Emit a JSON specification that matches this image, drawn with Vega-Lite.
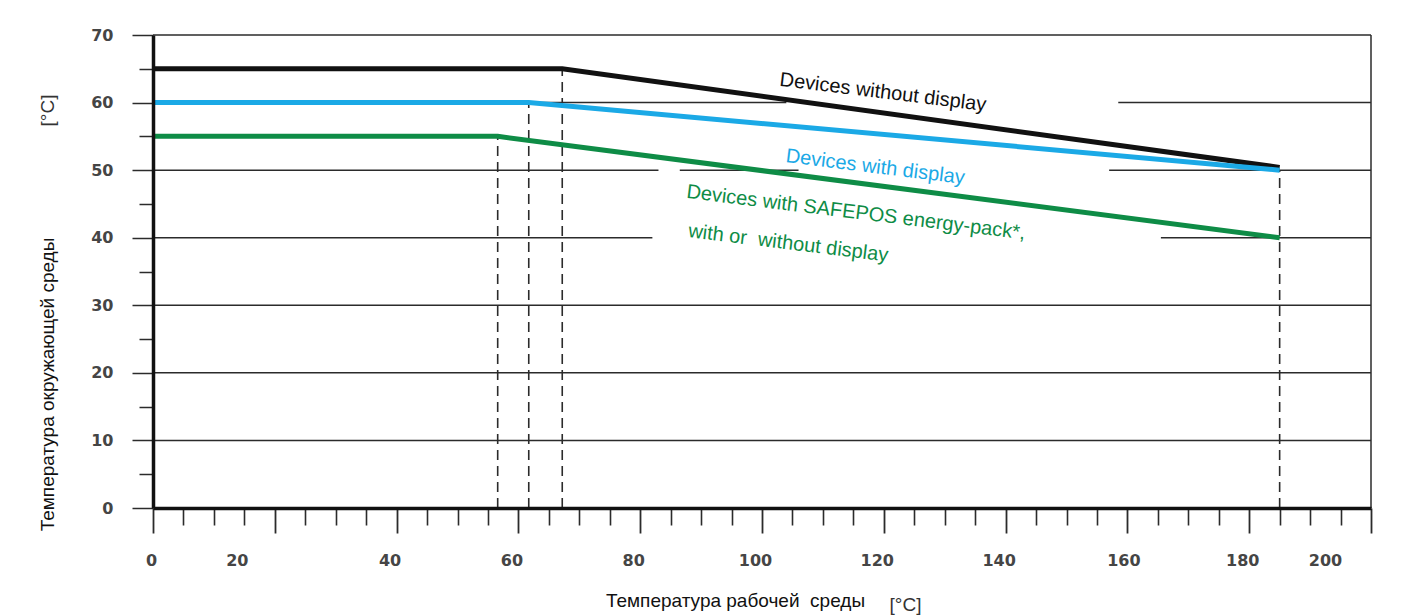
{
  "$schema": "https://vega.github.io/schema/vega-lite/v6.json",
  "width": 1218,
  "height": 473,
  "autosize": {"type": "none"},
  "padding": {"left": 153, "top": 35, "right": 52, "bottom": 108},
  "background": "white",
  "config": {"view": {"stroke": null}, "font": "Liberation Sans"},
  "datasets": {
    "grid": [
      {"y": 10, "x1": 0, "x2": 200},
      {"y": 20, "x1": 0, "x2": 200},
      {"y": 30, "x1": 0, "x2": 200},
      {"y": 40, "x1": 0, "x2": 82},
      {"y": 40, "x1": 165.5, "x2": 200},
      {"y": 50, "x1": 0, "x2": 83},
      {"y": 50, "x1": 86.5, "x2": 106},
      {"y": 50, "x1": 157, "x2": 200},
      {"y": 60, "x1": 0, "x2": 104},
      {"y": 60, "x1": 158.5, "x2": 200},
      {"y": 70, "x1": 0, "x2": 200}
    ],
    "frame": [{"x": 200, "y1": 0, "y2": 70}],
    "drops": [
      {"x": 56.6, "top": 55, "bottom": 0},
      {"x": 61.7, "top": 60, "bottom": 0},
      {"x": 67.2, "top": 65, "bottom": 0},
      {"x": 185, "top": 50, "bottom": 0}
    ],
    "curves": [
      {"series": "Devices without display", "x": 0, "y": 65},
      {"series": "Devices without display", "x": 67.2, "y": 65},
      {"series": "Devices without display", "x": 185, "y": 50.4},
      {"series": "Devices with display", "x": 0, "y": 60},
      {"series": "Devices with display", "x": 61.7, "y": 60},
      {"series": "Devices with display", "x": 185, "y": 50},
      {"series": "Devices with SAFEPOS energy-pack", "x": 0, "y": 55},
      {"series": "Devices with SAFEPOS energy-pack", "x": 56.6, "y": 55},
      {"series": "Devices with SAFEPOS energy-pack", "x": 185, "y": 40}
    ],
    "labels": [
      {"text": "Devices without display", "x": 102.8, "y": 62.5, "series": "Devices without display"},
      {"text": "Devices with display", "x": 103.8, "y": 51.2, "series": "Devices with display"},
      {"text": "Devices with SAFEPOS energy-pack*,", "x": 87.5, "y": 45.9, "series": "Devices with SAFEPOS energy-pack"},
      {"text": "with or\u00a0 without display", "x": 87.8, "y": 40.1, "series": "Devices with SAFEPOS energy-pack"}
    ]
  },
  "layer": [
    {
      "data": {"name": "grid"},
      "mark": {"type": "rule", "color": "#2b2b2b", "strokeWidth": 1.5},
      "encoding": {
        "x": {"field": "x1", "type": "quantitative", "scale": {"domain": [0, 200], "nice": false, "zero": false},
          "axis": {"orient": "bottom", "values": [5,10,15,25,30,35,45,50,55,65,70,75,85,90,95,105,110,115,125,130,135,145,150,155,165,170,175,185,190,195],
            "labels": false, "domain": false, "grid": false, "tickSize": 17, "tickWidth": 1.6, "tickColor": "#2b2b2b",
            "title": "[°C]", "titleX": 752, "titleY": 96, "titleFontSize": 19, "titleFontWeight": "normal", "titleColor": "#333", "titleAlign": "center", "titleBaseline": "middle", "zindex": 1}},
        "x2": {"field": "x2"},
        "y": {"field": "y", "type": "quantitative", "scale": {"domain": [0, 70], "nice": false, "zero": false},
          "axis": {"orient": "left", "values": [5,15,25,35,45,55,65], "labels": false, "domain": false, "grid": false,
            "tickSize": 14, "tickWidth": 1.5, "tickColor": "#2b2b2b",
            "title": "[°C]", "titleAngle": 270, "titleX": -106, "titleY": 75, "titleFontSize": 19, "titleFontWeight": "normal", "titleColor": "#333", "titleAlign": "center", "titleBaseline": "middle", "zindex": 1}}
      }
    },
    {
      "data": {"name": "frame"},
      "mark": {"type": "rule", "color": "#2b2b2b", "strokeWidth": 1.5},
      "encoding": {
        "x": {"field": "x", "type": "quantitative", "axis": null},
        "y": {"field": "y1", "type": "quantitative", "axis": null},
        "y2": {"field": "y2"}
      }
    },
    {
      "data": {"name": "drops"},
      "mark": {"type": "rule", "color": "#2b2b2b", "strokeWidth": 1.6, "strokeDash": [10, 6]},
      "encoding": {
        "x": {"field": "x", "type": "quantitative", "axis": null},
        "y": {"field": "bottom", "type": "quantitative", "axis": null},
        "y2": {"field": "top"}
      }
    },
    {
      "data": {"name": "curves"},
      "mark": {"type": "line", "strokeWidth": 5},
      "encoding": {
        "x": {"field": "x", "type": "quantitative",
          "axis": {"orient": "bottom", "values": [0,20,40,60,80,100,120,140,160,180,200], "grid": false,
            "domain": true, "domainColor": "#111", "domainWidth": 3.5, "tickSize": 25, "tickWidth": 1.8, "tickColor": "#2b2b2b",
            "labelFont": "DejaVu Sans", "labelFontSize": 16, "labelFontWeight": "bold", "labelColor": "#454545", "labelPadding": 19, "labelBaseline": "top", "labelFlush": false,
            "labelOffset": {"condition": [{"test": "datum.value == 20", "value": -38}, {"test": "datum.value == 200", "value": -46}, {"test": "datum.value == 0", "value": -2}, {"test": "datum.value == 160", "value": -4}], "value": -7},
            "title": "Температура рабочей\u00a0 среды", "titleX": 582, "titleY": 92, "titleFontSize": 19, "titleFontWeight": "normal", "titleColor": "#111", "titleAlign": "center", "titleBaseline": "middle", "zindex": 1}},
        "y": {"field": "y", "type": "quantitative",
          "axis": {"orient": "left", "values": [0,10,20,30,40,50,60,70], "grid": false,
            "domain": true, "domainColor": "#111", "domainWidth": 3.5, "tickSize": 21, "tickWidth": 1.5, "tickColor": "#2b2b2b",
            "labelFont": "DejaVu Sans", "labelFontSize": 16, "labelFontWeight": "bold", "labelColor": "#454545", "labelPadding": 19, "labelFlush": false,
            "title": "Температура окружающей среды", "titleAngle": 270, "titleX": -106, "titleY": 349, "titleFontSize": 19, "titleFontWeight": "normal", "titleColor": "#111", "titleAlign": "center", "titleBaseline": "middle", "zindex": 1}},
        "color": {"field": "series", "type": "nominal", "legend": null,
          "scale": {"domain": ["Devices without display", "Devices with display", "Devices with SAFEPOS energy-pack"], "range": ["#111111", "#1BA9E6", "#0E8C46"]}}
      }
    },
    {
      "data": {"name": "labels"},
      "mark": {"type": "text", "angle": 7, "align": "left", "baseline": "alphabetic", "fontSize": 20, "font": "Liberation Sans"},
      "encoding": {
        "x": {"field": "x", "type": "quantitative", "axis": null},
        "y": {"field": "y", "type": "quantitative", "axis": null},
        "text": {"field": "text"},
        "color": {"field": "series", "type": "nominal", "legend": null,
          "scale": {"domain": ["Devices without display", "Devices with display", "Devices with SAFEPOS energy-pack"], "range": ["#1a1a1a", "#2EA8E0", "#1E8A3E"]}}
      }
    }
  ],
  "resolve": {"axis": {"x": "independent", "y": "independent"}}
}
